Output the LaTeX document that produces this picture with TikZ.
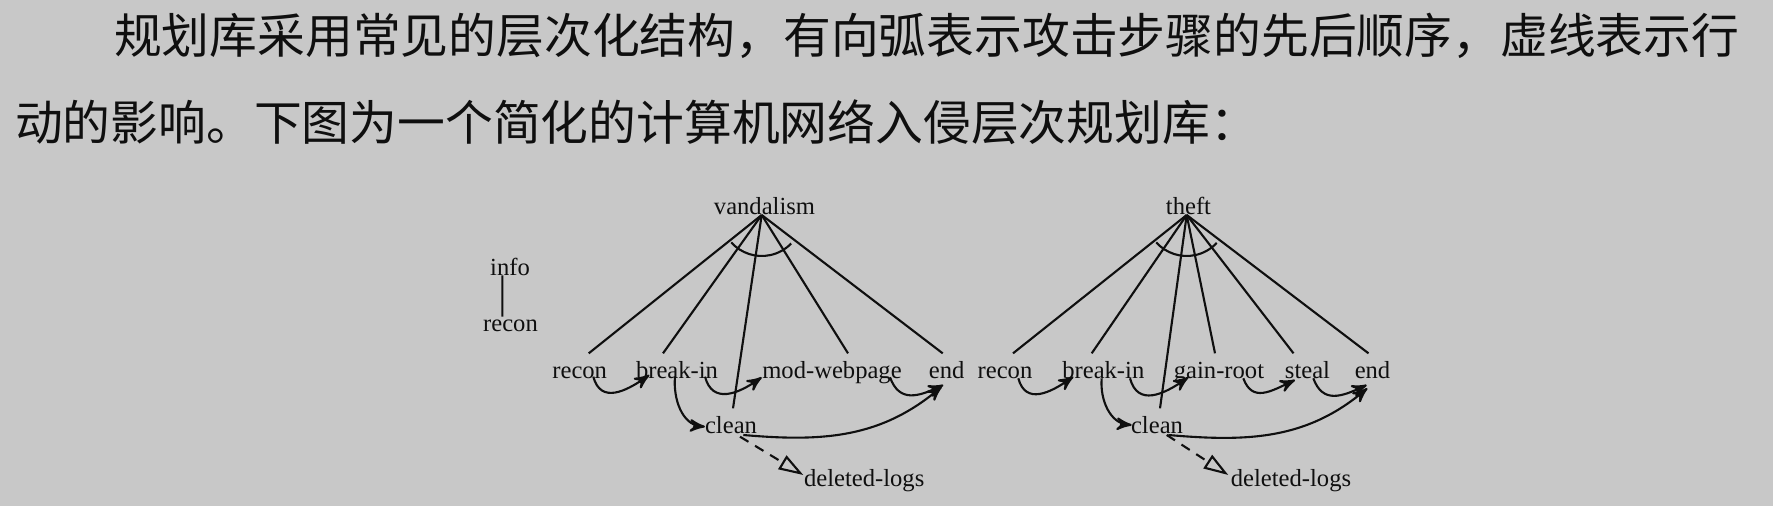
\documentclass[tikz,border=0pt]{standalone}
\usepackage{fontspec}
\setmainfont{Liberation Serif}
\newfontfamily\cjk{Noto Sans CJK SC}
\usetikzlibrary{arrows,arrows.meta}
\definecolor{page_gray}{RGB}{200,200,200}
\definecolor{ink_black}{RGB}{15,15,15}

\begin{document}
\begin{tikzpicture}[->,semithick,>=stealth',scale=1.0]
    \tikzstyle{para}=[anchor=base west, inner sep=0pt, text=ink_black, font=\cjk\fontsize{13.6}{16}\selectfont]
    \tikzstyle{action}=[anchor=base, inner sep=0pt, text height=0.7em, text depth=0.2em, text=ink_black, font=\fontsize{7}{8}\selectfont]
    \tikzstyle{tree}=[-, draw=ink_black]
    \tikzstyle{order}=[->, draw=ink_black, looseness=1.3]
    \tikzstyle{effect}=[-{Triangle[open,length=7pt,width=4.5pt]}, draw=ink_black, dash pattern=on 2.8pt off 2.2pt]

    \useasboundingbox (0,0) rectangle (17.73,-5.06);
    \fill[page_gray,-] (0,0) rectangle (17.73,-5.06);

    \node[para] (txt1) at (1.13,-0.535) {规划库采用常见的层次化结构，有向弧表示攻击步骤的先后顺序，虚线表示行};
    \node[para] (txt2) at (0.14,-1.41) {动的影响。下图为一个简化的计算机网络入侵层次规划库：};

    % legend
    \node[action] (info) at (5.10,-2.755) {info};
    \node[action] (recon0) at (5.105,-3.317) {recon};

    % vandalism
    \node[action] (vandalism) at (7.645,-2.15) {vandalism};
    \node[action] (recon1) at (5.797,-3.79) {recon};
    \node[action] (breakin1) at (6.77,-3.79) {break-in};
    \node[action] (modweb) at (8.32,-3.79) {mod-webpage};
    \node[action] (end1) at (9.467,-3.79) {end};
    \node[action] (clean1) at (7.31,-4.34) {clean};
    \node[action] (logs1) at (8.642,-4.87) {deleted-logs};

    % theft
    \node[action] (theft) at (11.885,-2.15) {theft};
    \node[action] (recon2) at (10.05,-3.79) {recon};
    \node[action] (breakin2) at (11.033,-3.79) {break-in};
    \node[action] (gainroot) at (12.19,-3.79) {gain-root};
    \node[action] (steal) at (13.075,-3.79) {steal};
    \node[action] (end2) at (13.725,-3.79) {end};
    \node[action] (clean2) at (11.57,-4.34) {clean};
    \node[action] (logs2) at (12.91,-4.87) {deleted-logs};

    \coordinate (vtop) at ([xshift=-0.028cm]vandalism.base);
    \coordinate (ttop) at ([xshift=-0.018cm]theft.base);

    \path
     ([xshift=-0.077cm]info.base) edge[tree] ([shift={(-0.082,0.15)}]recon0.base);

    \path
     (vtop) edge[tree] ([xshift=0.09cm]recon1.north)
     (vtop) edge[tree] ([xshift=-0.14cm]breakin1.north)
     (vtop) edge[tree] ([xshift=0.02cm]clean1.north)
     (vtop) edge[tree] ([xshift=0.16cm]modweb.north)
     (vtop) edge[tree] ([xshift=-0.04cm]end1.north);
    \draw[tree] ([shift={(222:0.41)}]vtop) arc[start angle=222, end angle=316, radius=0.41];

    \path
     ([shift={(0.136,0.023)}]recon1.base) edge[order,out=-75,in=215] ([shift={(-0.277,0.04)}]breakin1.base)
     ([shift={(0.28,0.023)}]breakin1.base) edge[order,out=-75,in=215] ([shift={(-0.703,0.017)}]modweb.base)
     ([shift={(0.58,0.017)}]modweb.base) edge[order,out=-70,in=205] ([shift={(-0.034,-0.06)}]end1.base)
     ([shift={(-0.02,0.023)}]breakin1.base) edge[order,out=-95,in=175,looseness=1] ([shift={(-0.26,0.073)}]clean1.base)
     ([shift={(0.123,-0.01)}]clean1.base) edge[order,out=-5,in=220,looseness=1] ([shift={(-0.05,-0.077)}]end1.base)
     ([shift={(0.09,-0.027)}]clean1.base) edge[effect] ([shift={(-0.609,0.12)}]logs1.base);

    \path
     (ttop) edge[tree] ([xshift=0.08cm]recon2.north)
     (ttop) edge[tree] ([xshift=-0.116cm]breakin2.north)
     (ttop) edge[tree] ([xshift=0.03cm]clean2.north)
     (ttop) edge[tree] ([xshift=-0.04cm]gainroot.north)
     (ttop) edge[tree] ([xshift=-0.14cm]steal.north)
     (ttop) edge[tree] ([xshift=-0.04cm]end2.north);
    \draw[tree] ([shift={(222:0.41)}]ttop) arc[start angle=222, end angle=317, radius=0.41];

    \path
     ([shift={(0.133,0.007)}]recon2.base) edge[order,out=-75,in=215] ([shift={(-0.30,0.023)}]breakin2.base)
     ([shift={(0.267,0.007)}]breakin2.base) edge[order,out=-75,in=215] ([shift={(-0.307,0.017)}]gainroot.base)
     ([shift={(0.243,0.007)}]gainroot.base) edge[order,out=-70,in=205] ([shift={(-0.125,-0.01)}]steal.base)
     ([shift={(0.058,0.007)}]steal.base) edge[order,out=-70,in=205] ([shift={(-0.058,-0.06)}]end2.base)
     ([shift={(-0.016,0.007)}]breakin2.base) edge[order,out=-95,in=175,looseness=1] ([shift={(-0.253,0.09)}]clean2.base)
     ([shift={(0.113,-0.01)}]clean2.base) edge[order,out=-5,in=220,looseness=1] ([shift={(-0.052,-0.093)}]end2.base)
     ([shift={(0.097,-0.01)}]clean2.base) edge[effect] ([shift={(-0.627,0.12)}]logs2.base);
  \end{tikzpicture}
\end{document}
